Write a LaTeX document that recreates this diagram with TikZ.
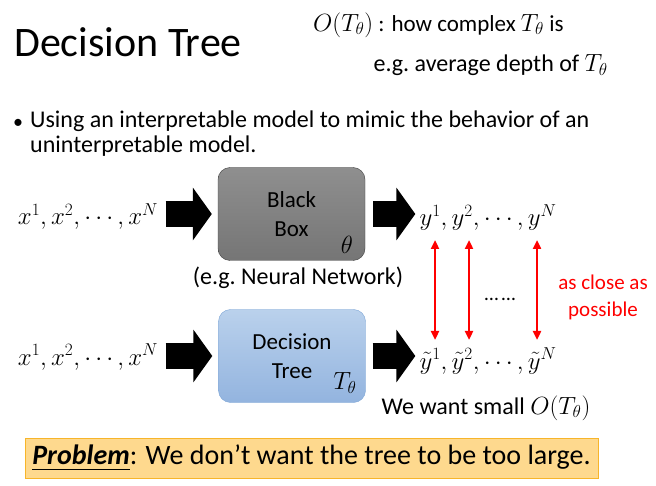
\documentclass[tikz,border=0pt]{standalone}
\usepackage{fontspec}
\setmainfont{Carlito}
\usepackage{amssymb}
\usetikzlibrary{arrows.meta, positioning, calc}
\tikzset{> = { Latex[length = 2mm] }}
\definecolor{boxline}{HTML}{3F3F3F}
\definecolor{treetop}{HTML}{BAD1EC}
\definecolor{treebot}{HTML}{93B4DF}
\definecolor{treeline}{HTML}{7EA6D6}
\definecolor{banner}{HTML}{FED98E}
\definecolor{bannerline}{HTML}{F7B52A}
\newcommand{\fs}[2]{\fontsize{#1}{#2}\selectfont}

\begin{document}
\begin{tikzpicture}[x = 1pt, y = -1pt,
		model/.style = {rounded corners = 12pt, minimum width = 147pt, minimum height = 93pt, align = center, font = \fs{23}{29}},
		fat/.style = {line width = 26pt, -{Triangle[length = 19pt, width = 52pt]}},
		close/.style = {red, line width = 2.5pt, {Triangle[length = 9pt, width = 8pt]}-{Triangle[length = 9pt, width = 8pt]}}]
		\useasboundingbox (0, 0) rectangle (656, 486);

		% heading
		\node [anchor = base west, inner sep = 0, font = \fs{42}{42}] (title) at (14, 57) {Decision Tree};
		\node [anchor = west, inner sep = 0, font = \fs{23}{26}] (cost) at (313, 25) {\(O(T_\theta)\) : how complex \(T_\theta\) is};
		\node [anchor = east, inner sep = 0, font = \fs{24}{26}] (depth) at (608, 65) {e.g.\ average depth of \(T_\theta\)};

		\node [inner sep = 0, font = \fs{20}{20}] (dot) at (18, 124) {\textbullet};
		\node [anchor = north west, inner sep = 0, align = left, font = \fs{24}{25}] (goal) at (30, 111) {Using an interpretable model to mimic the behavior of an\\uninterpretable model.};

		% the two models
		\node [model, draw = boxline, top color = black!44, bottom color = black!54] (bb) at (291.5, 214) {Black\\Box};
		\node [anchor = center, font = \fs{23}{23}] (theta) at (347, 245) {\(\theta\)};
		\node [model, draw = treeline, top color = treetop, bottom color = treebot] (dt) at (292, 356) {Decision\\Tree};
		\node [font = \fs{23}{23}] (ttheta) at (345, 383) {\(T_\theta\)};

		\node [font = \fs{23}{23}] (xtop) at (88, 217) {\(x^1, x^2, \cdots, x^N\)};
		\node [font = \fs{23}{23}] (xbot) at (88, 357) {\(x^1, x^2, \cdots, x^N\)};
		\node [inner sep = 0, font = \fs{24}{24}] (ytop) at (488, 218) {\(y^1, y^2, \cdots, y^N\)};
		\node [inner sep = 0, font = \fs{24}{24}] (ybot) at (488, 361) {\(\tilde{y}^1, \tilde{y}^2, \cdots, \tilde{y}^N\)};

		\draw [fat] ($(xtop.east |- bb) + (4, 0)$) -- ($(bb.west) + (-6, 0)$);
		\draw [fat] ($(bb.east) + (8, 0)$) -- ($(ytop.west |- bb) + (-4, 0)$);
		\draw [fat] ($(xbot.east |- dt) + (4, 0)$) -- ($(dt.west) + (-6, 0)$);
		\draw [fat] ($(dt.east) + (7, 0)$) -- ($(ybot.west |- dt) + (-4, 0)$);

		\node [font = \fs{24}{24}] (nn) at (298, 278) {(e.g.\ Neural Network)};

		% outputs should agree
		\foreach \x [count = \i] in {435, 469, 537} {
			\coordinate (up\i) at (\x, 240);
			\coordinate (dn\i) at (\x, 340);
			\draw [close] (up\i) -- (dn\i);
		}
		\node [font = \fs{20}{20}] (dots) at (500, 299) {\ldots\,\ldots};
		\node [red, align = center, font = \fs{21}{27}] (near) at (603, 297) {as close as\\possible};
		\node [font = \fs{24}{24}] (want) at (486, 408) {We want small \(O(T_\theta)\)};

		% the catch
		\node [draw = bannerline, fill = banner, line width = 1pt, minimum width = 573pt, minimum height = 40pt, font = \fs{28}{28}] (problem) at (311.5, 458) {\underline{\textbf{\textit{Problem}}}: We don’t want the tree to be too large.};
	\end{tikzpicture}
\end{document}
